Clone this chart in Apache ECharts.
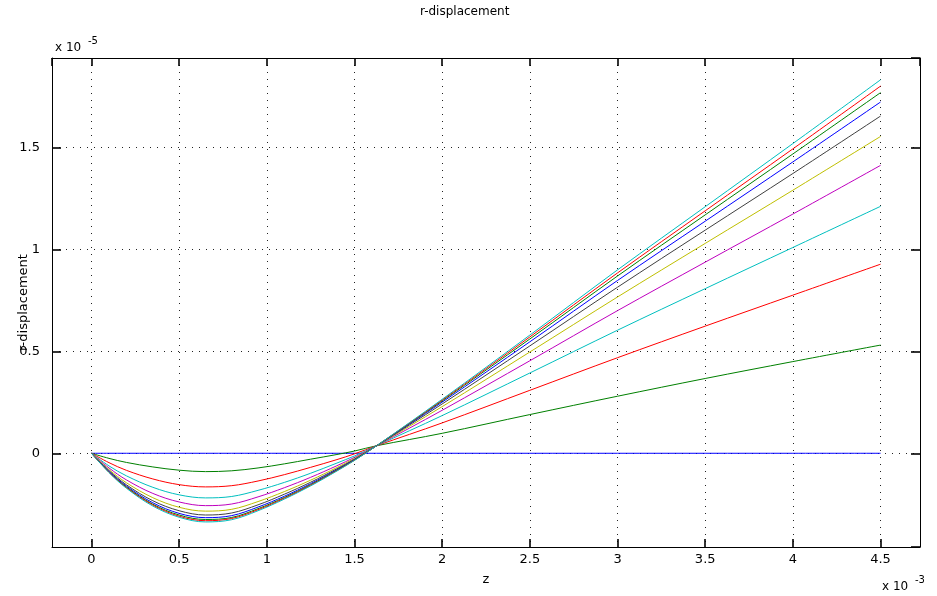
<!DOCTYPE html>
<html>
<head>
<meta charset="utf-8">
<script src="https://cdn.jsdelivr.net/npm/echarts@6/dist/echarts.min.js"></script>
<style>
  html, body { margin: 0; padding: 0; background: #fff; }
  #chart { width: 937px; height: 596px; }
</style>
</head>
<body>
<div id="chart"></div>
<script>
    'use strict';

    // z in units of 1e-3, displacement in units of 1e-5
    var zVals = [0, 0.1, 0.2, 0.35, 0.5, 0.65, 0.8, 0.95, 1.1, 1.25, 1.4, 1.5, 1.626, 2, 2.5, 3, 3.5, 4, 4.5];
    var zRange = [-0.225, 4.725];
    var dispRange = [-0.46, 1.94];

    var flat = [0, 0, 0, 0, 0, 0, 0, 0, 0, 0, 0, 0, 0, 0, 0, 0, 0, 0, 0];
    var g1 = [0, -0.025, -0.045, -0.067, -0.083, -0.090, -0.086, -0.072, -0.052, -0.029, -0.006, 0.011, 0.037, 0.098, 0.19, 0.28, 0.367, 0.45, 0.531];
    var r1 = [0, -0.046, -0.084, -0.126, -0.154, -0.165, -0.159, -0.136, -0.105, -0.069, -0.031, -0.003, 0.037, 0.149, 0.309, 0.469, 0.624, 0.776, 0.928];
    var c1 = [0, -0.062, -0.111, -0.167, -0.204, -0.219, -0.212, -0.182, -0.143, -0.098, -0.048, -0.013, 0.037, 0.185, 0.394, 0.604, 0.808, 1.010, 1.212];
    var m1 = [0, -0.072, -0.131, -0.197, -0.239, -0.257, -0.249, -0.214, -0.169, -0.118, -0.061, -0.020, 0.037, 0.211, 0.454, 0.700, 0.938, 1.174, 1.413];
    var y1 = [0, -0.080, -0.145, -0.218, -0.265, -0.284, -0.275, -0.237, -0.188, -0.132, -0.070, -0.025, 0.037, 0.229, 0.497, 0.767, 1.030, 1.291, 1.555];
    var k1 = [0, -0.085, -0.155, -0.233, -0.282, -0.303, -0.293, -0.253, -0.201, -0.142, -0.076, -0.029, 0.037, 0.242, 0.527, 0.815, 1.095, 1.373, 1.655];
    var b2 = [0, -0.089, -0.161, -0.243, -0.295, -0.316, -0.306, -0.264, -0.211, -0.149, -0.080, -0.031, 0.037, 0.251, 0.547, 0.848, 1.139, 1.430, 1.724];
    var g2 = [0, -0.092, -0.166, -0.250, -0.303, -0.325, -0.315, -0.272, -0.217, -0.154, -0.083, -0.033, 0.037, 0.257, 0.561, 0.870, 1.170, 1.469, 1.770];
    var r2 = [0, -0.093, -0.169, -0.254, -0.309, -0.331, -0.320, -0.277, -0.221, -0.157, -0.085, -0.034, 0.037, 0.261, 0.571, 0.885, 1.190, 1.494, 1.802];
    var c2 = [0, -0.095, -0.172, -0.259, -0.314, -0.337, -0.326, -0.282, -0.225, -0.160, -0.087, -0.035, 0.037, 0.265, 0.580, 0.900, 1.210, 1.520, 1.833];

    var curves = [flat, g1, r1, c1, m1, y1, k1, b2, g2, r2, c2];
    // matlab default colour order b g r c m y k
    var colors = ['#0000ff', '#008000', '#ff0000', '#00bfbf', '#bf00bf', '#bfbf00', '#404040',
                  '#0000ff', '#008000', '#ff0000', '#00bfbf'];

    var font = 'DejaVu Sans';

    var series = curves.map(function (vals, i) {
        return {
            type : 'line',
            xAxisIndex : 0,
            yAxisIndex : 0,
            showSymbol : false,
            smooth : 0.35,
            lineStyle : { color : colors[i], width : 1 },
            data : zVals.map(function (z, j) { return [z, vals[j]]; })
        };
    });

    var frameLine = { show : true, onZero : false, lineStyle : { color : '#000', width : 1 } };
    var dotted = { show : true, lineStyle : { color : '#222', width : 1, type : [1, 6] } };
    var tickStyle = { color : '#000', width : 1.6 };

    // no interval set: splitNumber lets echarts pick 0.5 steps, the
    // extent end ticks sit on the frame and their labels are hidden
    function xAxisOf(pos) {
        var main = pos === 'bottom';
        return {
            type : 'value', min : zRange[0], max : zRange[1], position : pos,
            splitNumber : 10,
            name : main ? 'z' : '', nameLocation : 'middle', nameGap : 26,
            nameTextStyle : { fontFamily : font, fontSize : 13, color : '#000' },
            axisLine : frameLine,
            axisTick : { show : true, inside : true, length : 8, lineStyle : tickStyle },
            axisLabel : { show : main, showMinLabel : false, showMaxLabel : false, margin : 6,
                          fontFamily : font, fontSize : 13, color : '#000' },
            splitLine : main ? dotted : { show : false }
        };
    }

    function yAxisOf(pos) {
        var main = pos === 'left';
        return {
            type : 'value', min : dispRange[0], max : dispRange[1], position : pos,
            splitNumber : 5,
            name : main ? 'r-displacement' : '', nameLocation : 'middle', nameGap : 22, nameRotate : 90,
            nameMoveOverlap : false,
            nameTextStyle : { fontFamily : font, fontSize : 13, color : '#000' },
            axisLine : frameLine,
            axisTick : { show : true, inside : true, length : 9, lineStyle : tickStyle },
            axisLabel : { show : main, showMinLabel : false, showMaxLabel : false, margin : 12,
                          fontFamily : font, fontSize : 13, color : '#000' },
            splitLine : main ? dotted : { show : false }
        };
    }

    var option = {
        animation : false,
        backgroundColor : '#fff',
        grid : { left : 52, right : 17, top : 58, bottom : 49, containLabel : false, outerBoundsMode : 'none' },
        xAxis : [ xAxisOf('bottom'), xAxisOf('top') ],
        yAxis : [ yAxisOf('left'), yAxisOf('right') ],
        graphic : [
            { type : 'text', left : 420, top : 6, style : { text : 'r-displacement', font : '12px "DejaVu Sans"', fill : '#000' } },
            { type : 'text', left : 55, top : 42, style : { text : 'x 10', font : '12px "DejaVu Sans"', fill : '#000' } },
            { type : 'text', left : 88, top : 36, style : { text : '-5', font : '10px "DejaVu Sans"', fill : '#000' } },
            { type : 'text', left : 882, top : 581, style : { text : 'x 10', font : '12px "DejaVu Sans"', fill : '#000' } },
            { type : 'text', left : 915, top : 575, style : { text : '-3', font : '10px "DejaVu Sans"', fill : '#000' } }
        ],
        series : series
    };

    var chart = echarts.init(document.getElementById('chart'), null, { renderer : 'canvas' });
    chart.setOption(option);
</script>
</body>
</html>
